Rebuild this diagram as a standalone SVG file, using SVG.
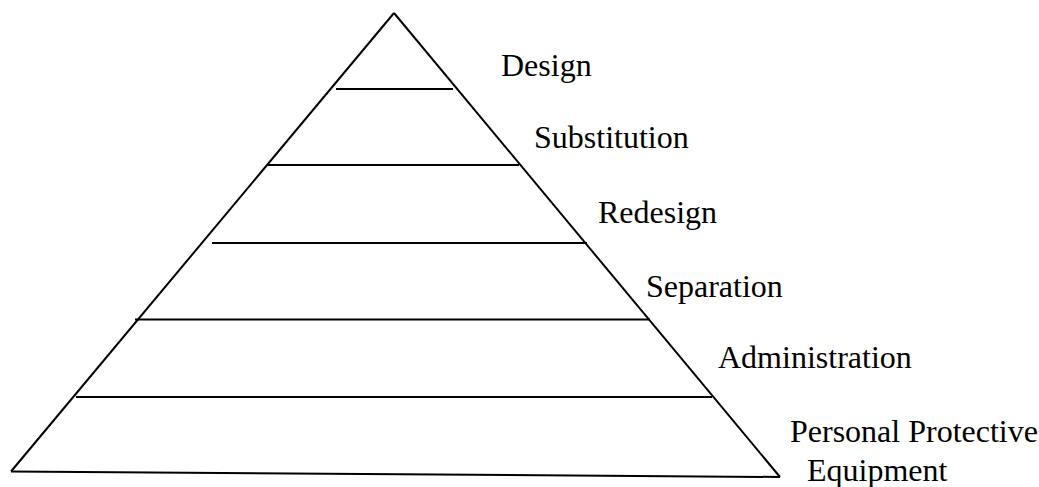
<svg xmlns="http://www.w3.org/2000/svg" width="1039" height="487" viewBox="0 0 1039 487">
<style>
.ln{stroke:#000;stroke-width:2;fill:none}
.lb{font-family:"Liberation Serif","Times New Roman",serif;font-size:32px;fill:#000}
</style>
<rect width="1039" height="487" fill="#fff"/>
<g id="connectors">
<line class="ln" x1="394" y1="13" x2="11" y2="471.5"/>
<line class="ln" x1="394" y1="13" x2="780" y2="477"/>
<line class="ln" x1="11" y1="471.5" x2="780" y2="477"/>
<line class="ln" x1="336" y1="89" x2="453" y2="89"/>
<line class="ln" x1="268" y1="165" x2="519" y2="165"/>
<line class="ln" x1="212" y1="243" x2="587" y2="243"/>
<line class="ln" x1="135" y1="319.5" x2="650" y2="319.5"/>
<line class="ln" x1="76" y1="397" x2="712" y2="397"/>
</g>
<g id="design"><text class="lb" x="501" y="76">Design</text></g>
<g id="substitution"><text class="lb" x="534" y="148">Substitution</text></g>
<g id="redesign"><text class="lb" x="598" y="223">Redesign</text></g>
<g id="separation"><text class="lb" x="646" y="297">Separation</text></g>
<g id="administration"><text class="lb" x="718" y="368">Administration</text></g>
<g id="ppe"><text class="lb" x="790" y="442">Personal Protective</text><text class="lb" x="807" y="481">Equipment</text></g>
</svg>
